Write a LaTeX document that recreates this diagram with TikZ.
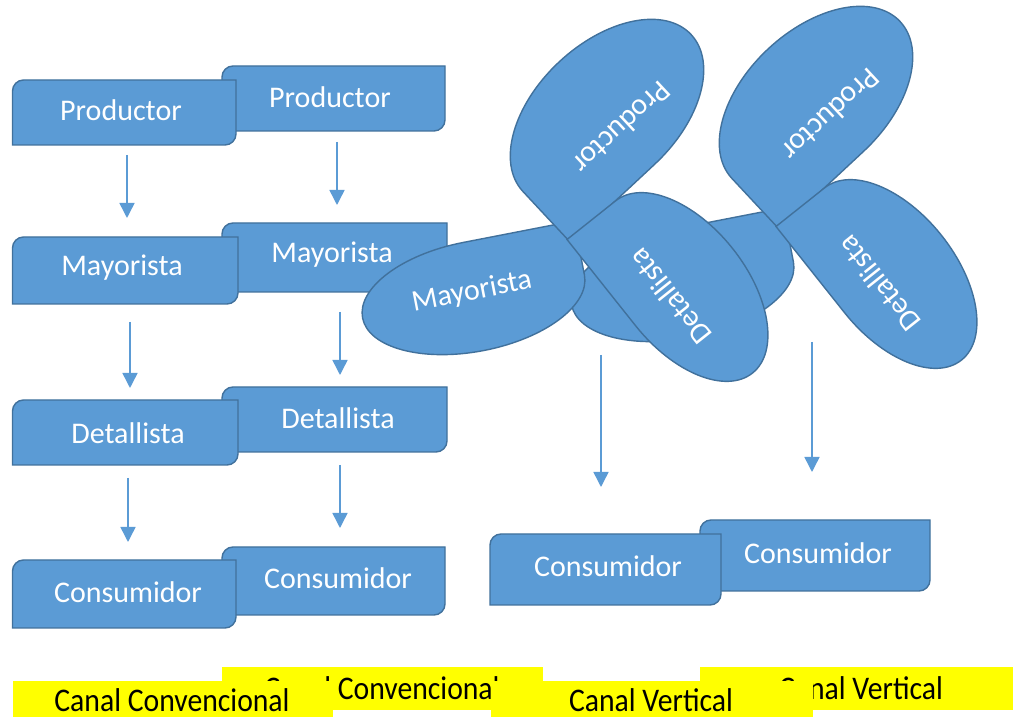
\documentclass[tikz,border=0pt]{standalone}
\usepackage{fontspec}
\setmainfont{Carlito}
\usetikzlibrary{arrows.meta}
\definecolor{boxblue}{HTML}{5B9BD5}
\definecolor{edgeblue}{HTML}{41719C}
\definecolor{labyellow}{HTML}{FFFF00}
\tikzset{
  shapefill/.style={fill=boxblue, draw=edgeblue, line width=1.4pt},
  boxtext/.style={text=white, font=\fontsize{30}{34}\selectfont, inner sep=0pt},
  arr/.style={draw=boxblue, line width=1.5pt, -{Triangle[length=15pt,width=15pt]}},
  labbox/.style={fill=labyellow},
  labtext/.style={text=black, font=\fontsize{33}{38}\selectfont, inner sep=0pt, anchor=base},
}
% box with rounded top-left and bottom-right corners: x1, ytop, x2, ybot
\newcommand\boxshape[4]{%
  \path[shapefill] (#1,#4) -- (#1,#2-11) arc[start angle=180,end angle=90,radius=11]
    -- (#3,#2) -- (#3,#4+11) arc[start angle=0,end angle=-90,radius=11] -- cycle;}
% teardrop petal: cx, cy, angle, a, b
\newcommand\petal[5]{%
  \path[shapefill, shift={(#1,#2)}, rotate=#3] (-#4,-#5) -- (0,-#5)
    arc[start angle=-90,end angle=180,x radius=#4,y radius=#5] -- cycle;}
\newcommand\narrow[1]{\scalebox{0.9}[1]{#1}}
\begin{document}
\begin{tikzpicture}[x=1pt,y=1pt]
\useasboundingbox (0,0) rectangle (1013,717);
\fill[white] (0,0) rectangle (1013,717);

% right column of boxes
\boxshape{222}{651}{445}{586}
\node[boxtext] (P2) at (330,620) {Productor};
\boxshape{222}{494}{447}{425}
\node[boxtext] (M2) at (332,462) {Mayorista};
\boxshape{222}{330}{447}{265}
\node[boxtext] (D2) at (338,299) {Detallista};
\boxshape{222}{170}{445}{102}
\node[boxtext] (C2) at (338,139) {Consumidor};

% left column of boxes
\boxshape{12.5}{637}{236}{572}
\node[boxtext] (P1) at (121,607) {Productor};
\boxshape{12.5}{480}{238}{413}
\node[boxtext] (M1) at (122,449) {Mayorista};
\boxshape{12.5}{317}{238}{252}
\node[boxtext] (D1) at (128,284) {Detallista};
\boxshape{12.5}{157}{236}{89}
\node[boxtext] (C1) at (128,125) {Consumidor};

% consumers of the vertical channels
\boxshape{700}{197}{930}{126}
\node[boxtext] (C4) at (818,164) {Consumidor};
\boxshape{490}{183}{721}{112}
\node[boxtext] (C3) at (608,151) {Consumidor};

% arrows of the columns
\coordinate (a1s) at (127,562); \coordinate (a1e) at (127,499);
\coordinate (a2s) at (130,395); \coordinate (a2e) at (130,329);
\coordinate (a3s) at (128,239); \coordinate (a3e) at (128,175);
\coordinate (b1s) at (337,575); \coordinate (b1e) at (337,512);
\coordinate (b2s) at (340,405); \coordinate (b2e) at (340,342);
\coordinate (b3s) at (340,252); \coordinate (b3e) at (340,189);
\draw[arr] (a1s) -- (a1e);
\draw[arr] (a2s) -- (a2e);
\draw[arr] (a3s) -- (a3e);
\draw[arr] (b1s) -- (b1e);
\draw[arr] (b2s) -- (b2e);
\draw[arr] (b3s) -- (b3e);

% right cluster of petals
\begin{scope}[shift={(209,13)}]
  \petal{473.5}{420.5}{191}{113}{55}
  \petal{607}{604}{43}{115}{70}
  \node[boxtext, rotate=223] (PP2) at (622,589) {Productor};
  \petal{684}{430}{-51.5}{110}{62}
  \node[boxtext, rotate=128.5] (PD2) at (670,420) {Detallista};
\end{scope}

% left cluster of petals
\petal{473.5}{420.5}{191}{113}{55}
\node[boxtext, rotate=11] (PM1) at (472,425) {Mayorista};
\petal{607}{604}{43}{115}{70}
\node[boxtext, rotate=223] (PP1) at (622,589) {Productor};
\petal{684}{430}{-51.5}{110}{62}
\node[boxtext, rotate=128.5] (PD1) at (670,420) {Detallista};

% arrows of the clusters
\coordinate (c1s) at (601,362); \coordinate (c1e) at (601,230);
\coordinate (c2s) at (812,375); \coordinate (c2e) at (812,245);
\draw[arr] (c1s) -- (c1e);
\draw[arr] (c2s) -- (c2e);

% yellow labels
\path[labbox] (222,7) rectangle (543,50);
\node[labtext] (L2) at (382,17) {\narrow{Canal Convencional}};
\path[labbox] (700,7) rectangle (1021,50);
\node[labtext] (L4) at (861,17) {\narrow{Canal Vertical}};
\path[labbox] (13,-5) rectangle (333,36);
\node[labtext] (L1) at (172,5) {\narrow{Canal Convencional}};
\path[labbox] (491,-5) rectangle (813,36);
\node[labtext] (L3) at (651,5) {\narrow{Canal Vertical}};
\end{tikzpicture}
\end{document}
